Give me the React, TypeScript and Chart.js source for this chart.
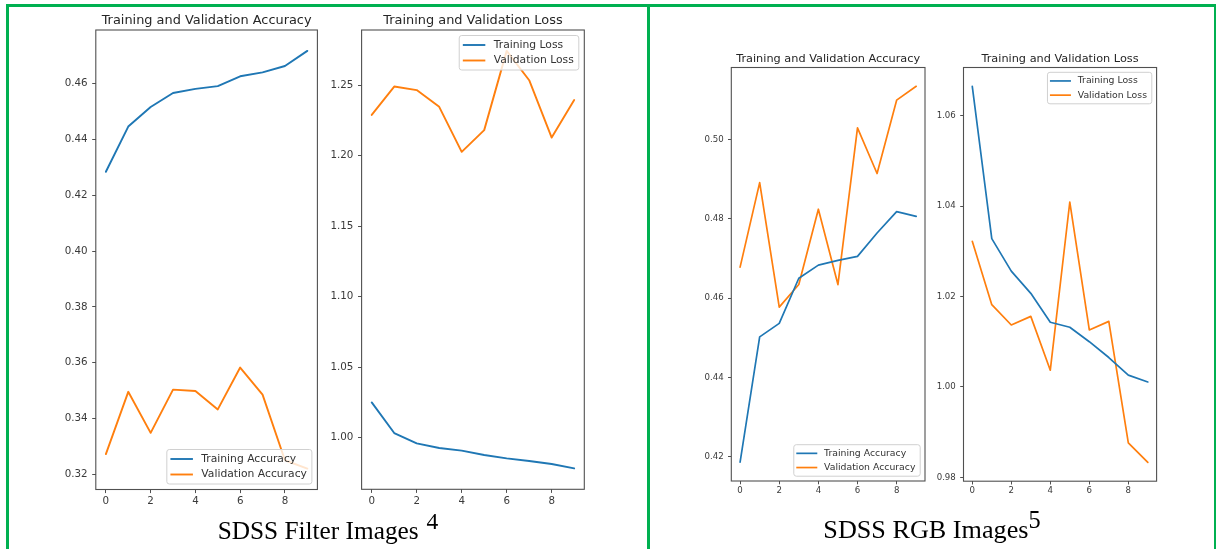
import React, { useEffect, useRef } from "react";
import { Chart, registerables } from "chart.js";

Chart.register(...registerables);

// ---------- data ----------
const epochs = [0, 1, 2, 3, 4, 5, 6, 7, 8, 9];
const xTickValues = [0, 2, 4, 6, 8];

const filterTrainAcc = [0.4284, 0.4446, 0.4516, 0.4566, 0.4581, 0.4591, 0.4626, 0.464, 0.4663, 0.4717];
const filterValAcc = [0.3273, 0.3496, 0.3349, 0.3504, 0.3499, 0.3433, 0.3583, 0.3486, 0.3251, 0.3221];
const filterTrainLoss = [1.025, 1.0033, 0.996, 0.9927, 0.9908, 0.9877, 0.9853, 0.9835, 0.9813, 0.9782];
const filterValLoss = [1.2289, 1.249, 1.2465, 1.2346, 1.2027, 1.2181, 1.2743, 1.2535, 1.2128, 1.2394];

const rgbTrainAcc = [0.4186, 0.4502, 0.4536, 0.465, 0.4683, 0.4695, 0.4705, 0.4764, 0.4818, 0.4806];
const rgbValAcc = [0.4678, 0.4891, 0.4577, 0.4634, 0.4824, 0.4634, 0.5029, 0.4914, 0.5099, 0.5134];
const rgbTrainLoss = [1.0665, 1.0328, 1.0256, 1.0207, 1.0143, 1.0132, 1.01, 1.0065, 1.0026, 1.0011];
const rgbValLoss = [1.0322, 1.0182, 1.0137, 1.0156, 1.0037, 1.0409, 1.0126, 1.0145, 0.9876, 0.9833];

const filterAccTicks = [0.32, 0.34, 0.36, 0.38, 0.4, 0.42, 0.44, 0.46];
const filterLossTicks = [1.0, 1.05, 1.1, 1.15, 1.2, 1.25];
const rgbAccTicks = [0.42, 0.44, 0.46, 0.48, 0.5];
const rgbLossTicks = [0.98, 1.0, 1.02, 1.04, 1.06];

const accLabels = ["Training Accuracy", "Validation Accuracy"];
const lossLabels = ["Training Loss", "Validation Loss"];
const accTitle = "Training and Validation Accuracy";
const lossTitle = "Training and Validation Loss";

const captionLeft = "SDSS Filter Images";
const captionLeftSup = "4";
const captionRight = "SDSS RGB Images";
const captionRightSup = "5";

// ---------- styles ----------
const lineColors = ["#1f77b4", "#ff7f0e"];
const GREEN = "#00b050";
const FONT = "'DejaVu Sans', sans-serif";

type LegendStyle = {
  font: number;
  pitch: number;
  boxH: number;
  handleStart: number;
  handleLen: number;
  textX: number;
  rightPad: number;
  axPad: number;
};

type Style = {
  titleSize: number;
  titleGap: number;
  tickSize: number;
  tickLen: number;
  yPad: number;
  xPad: number;
  lineW: number;
  legend: LegendStyle;
};

const leftStyle: Style = {
  titleSize: 12.9,
  titleGap: 6,
  tickSize: 10.3,
  tickLen: 3.6,
  yPad: 4.6,
  xPad: 2,
  lineW: 1.9,
  legend: { font: 10.75, pitch: 15.5, boxH: 34.5, handleStart: 3.6, handleLen: 22.5, textX: 34.5, rightPad: 5, axPad: 5.5 },
};

const rightStyle: Style = {
  titleSize: 11.3,
  titleGap: 5.3,
  tickSize: 8.6,
  tickLen: 3.3,
  yPad: 4.4,
  xPad: 1.6,
  lineW: 1.7,
  legend: { font: 9.3, pitch: 14.2, boxH: 31.5, handleStart: 2.5, handleLen: 21, textX: 30.3, rightPad: 4.8, axPad: 4.8 },
};

type PanelCfg = {
  plot: { L: number; T: number; R: number; B: number };
  title: string;
  labels: string[];
  series: number[][];
  yTicks: number[];
  legendLoc: "upper right" | "lower right";
  s: Style;
};

const panels: PanelCfg[] = [
  {
    plot: { L: 95.8, T: 30, R: 317.4, B: 489.5 },
    title: accTitle,
    labels: accLabels,
    series: [filterTrainAcc, filterValAcc],
    yTicks: filterAccTicks,
    legendLoc: "lower right",
    s: leftStyle,
  },
  {
    plot: { L: 361.6, T: 30, R: 584.3, B: 489.3 },
    title: lossTitle,
    labels: lossLabels,
    series: [filterTrainLoss, filterValLoss],
    yTicks: filterLossTicks,
    legendLoc: "upper right",
    s: leftStyle,
  },
  {
    plot: { L: 731.3, T: 67.5, R: 925, B: 481 },
    title: accTitle,
    labels: accLabels,
    series: [rgbTrainAcc, rgbValAcc],
    yTicks: rgbAccTicks,
    legendLoc: "lower right",
    s: rightStyle,
  },
  {
    plot: { L: 963.5, T: 67.5, R: 1156.6, B: 481.2 },
    title: lossTitle,
    labels: lossLabels,
    series: [rgbTrainLoss, rgbValLoss],
    yTicks: rgbLossTicks,
    legendLoc: "upper right",
    s: rightStyle,
  },
];

function LineChart({ cfg }: { cfg: PanelCfg }) {
  const ref = useRef<HTMLCanvasElement | null>(null);
  const { L, T, R, B } = cfg.plot;
  const left = Math.floor(L) - 70;
  const top = 0;
  const width = Math.ceil(R) + 14 - left;
  const height = Math.ceil(B) + 30;

  useEffect(() => {
    const canvas = ref.current;
    if (!canvas) return;
    const s = cfg.s;
    const yW = L - left;
    const xH = 24;
    const padRight = width - (R - left);
    const padBottom = height - B - xH;

    const all = cfg.series.flat();
    const lo = Math.min(...all);
    const hi = Math.max(...all);
    const yMin = lo - 0.05 * (hi - lo);
    const yMax = hi + 0.05 * (hi - lo);
    const e0 = epochs[0];
    const e1 = epochs[epochs.length - 1];
    const xMin = e0 - 0.05 * (e1 - e0);
    const xMax = e1 + 0.05 * (e1 - e0);

    const framePlugin = {
      id: "mplFrame",
      afterDatasetsDraw(chart: any) {
        const a = chart.chartArea;
        const ctx = chart.ctx;
        ctx.save();
        ctx.strokeStyle = "#505050";
        ctx.lineWidth = 1.1;
        ctx.strokeRect(a.left, a.top, a.right - a.left, a.bottom - a.top);
        ctx.restore();
      },
    };

    const titlePlugin = {
      id: "mplTitle",
      afterDraw(chart: any) {
        const a = chart.chartArea;
        const ctx = chart.ctx;
        ctx.save();
        ctx.font = `${s.titleSize}px ${FONT}`;
        ctx.fillStyle = "#262626";
        ctx.textAlign = "center";
        ctx.textBaseline = "alphabetic";
        ctx.fillText(cfg.title, (a.left + a.right) / 2, a.top - s.titleGap);
        ctx.restore();
      },
    };

    const legendPlugin = {
      id: "mplLegend",
      afterDraw(chart: any) {
        const a = chart.chartArea;
        const ctx = chart.ctx;
        const lg = s.legend;
        ctx.save();
        ctx.font = `${lg.font}px ${FONT}`;
        const tw = Math.max(...cfg.labels.map((l) => ctx.measureText(l).width));
        const w = lg.textX + tw + lg.rightPad;
        const h = lg.boxH;
        const x = a.right - lg.axPad - w;
        const y = cfg.legendLoc === "upper right" ? a.top + lg.axPad : a.bottom - lg.axPad - h;
        const r = 2.5;
        ctx.beginPath();
        ctx.moveTo(x + r, y);
        ctx.arcTo(x + w, y, x + w, y + h, r);
        ctx.arcTo(x + w, y + h, x, y + h, r);
        ctx.arcTo(x, y + h, x, y, r);
        ctx.arcTo(x, y, x + w, y, r);
        ctx.closePath();
        ctx.fillStyle = "rgba(255,255,255,0.8)";
        ctx.fill();
        ctx.strokeStyle = "#d0d0d0";
        ctx.lineWidth = 1;
        ctx.stroke();
        const cy = y + h / 2;
        cfg.labels.forEach((label, i) => {
          const ry = cy + (i === 0 ? -lg.pitch / 2 : lg.pitch / 2);
          ctx.beginPath();
          ctx.moveTo(x + lg.handleStart, ry);
          ctx.lineTo(x + lg.handleStart + lg.handleLen, ry);
          ctx.strokeStyle = lineColors[i];
          ctx.lineWidth = s.lineW;
          ctx.stroke();
          ctx.fillStyle = "#333333";
          ctx.textAlign = "left";
          ctx.textBaseline = "middle";
          ctx.fillText(label, x + lg.textX, ry);
        });
        ctx.restore();
      },
    };

    const chart = new Chart(canvas, {
      type: "line",
      data: {
        datasets: cfg.series.map((arr, i) => ({
          label: cfg.labels[i],
          data: epochs.map((e, j) => ({ x: e, y: arr[j] })),
          borderColor: lineColors[i],
          backgroundColor: lineColors[i],
          borderWidth: s.lineW,
          pointRadius: 0,
          tension: 0,
          fill: false,
          borderJoinStyle: "round",
          borderCapStyle: "round",
        })),
      },
      options: {
        responsive: false,
        animation: false,
        events: [],
        layout: { padding: { left: 0, top: T - top, right: padRight, bottom: padBottom } },
        plugins: {
          legend: { display: false },
          title: { display: false },
          tooltip: { enabled: false },
        },
        scales: {
          x: {
            type: "linear",
            min: xMin,
            max: xMax,
            afterFit: (sc: any) => {
              sc.height = xH;
            },
            afterBuildTicks: (sc: any) => {
              sc.ticks = xTickValues.map((v) => ({ value: v }));
            },
            grid: {
              display: true,
              drawOnChartArea: false,
              drawTicks: true,
              tickLength: s.tickLen,
              color: "#505050",
              lineWidth: 1,
            },
            border: { display: false },
            ticks: {
              font: { family: FONT, size: s.tickSize },
              color: "#3a3a3a",
              padding: s.xPad,
              maxRotation: 0,
              autoSkip: false,
              includeBounds: false,
              callback: (v: any) => String(v),
            },
          },
          y: {
            type: "linear",
            min: yMin,
            max: yMax,
            afterFit: (sc: any) => {
              sc.width = yW;
            },
            afterBuildTicks: (sc: any) => {
              sc.ticks = cfg.yTicks.map((v) => ({ value: v }));
            },
            grid: {
              display: true,
              drawOnChartArea: false,
              drawTicks: true,
              tickLength: s.tickLen,
              color: "#505050",
              lineWidth: 1,
            },
            border: { display: false },
            ticks: {
              font: { family: FONT, size: s.tickSize },
              color: "#3a3a3a",
              padding: s.yPad,
              autoSkip: false,
              includeBounds: false,
              callback: (v: any) => Number(v).toFixed(2),
            },
          },
        },
      },
      plugins: [framePlugin, titlePlugin, legendPlugin],
    } as any);
    return () => chart.destroy();
  }, []);

  return (
    <canvas
      ref={ref}
      width={width}
      height={height}
      style={{ position: "absolute", left, top, width, height }}
    />
  );
}

function GreenLine({ x, y, w, h }: { x: number; y: number; w: number; h: number }) {
  return <div style={{ position: "absolute", left: x, top: y, width: w, height: h, background: GREEN }} />;
}

export default function App() {
  const captionStyle: React.CSSProperties = {
    position: "absolute",
    top: 515,
    textAlign: "center",
    fontFamily: "'Liberation Serif', 'Times New Roman', serif",
    lineHeight: "30px",
    color: "#000",
    whiteSpace: "nowrap",
  };
  return (
    <div
      style={{
        position: "absolute",
        left: 0,
        top: 0,
        width: 1216,
        height: 549,
        overflow: "hidden",
        background: "#fff",
      }}
    >
      {panels.map((p, i) => (
        <LineChart key={i} cfg={p} />
      ))}
      <GreenLine x={6} y={4} w={1210} h={3} />
      <GreenLine x={6} y={4} w={3} h={545} />
      <GreenLine x={647} y={4} w={3} h={545} />
      <GreenLine x={1214} y={4} w={2} h={545} />
      <div style={{ ...captionStyle, left: 9, width: 638, fontSize: 25.3 }}>
        {captionLeft}
        <span style={{ position: "relative", top: -10, fontSize: "0.93em", marginLeft: 8 }}>{captionLeftSup}</span>
      </div>
      <div style={{ ...captionStyle, left: 650, width: 564, fontSize: 26.2 }}>
        {captionRight}
        <span style={{ position: "relative", top: -10, fontSize: "0.93em" }}>{captionRightSup}</span>
      </div>
    </div>
  );
}
